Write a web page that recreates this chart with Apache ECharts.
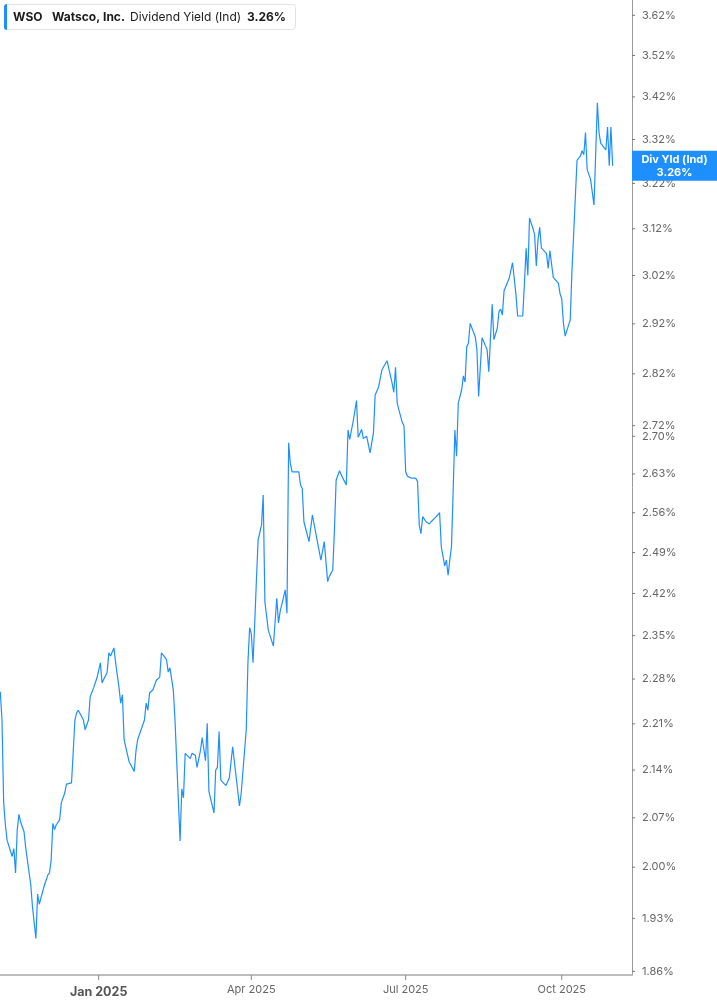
<!DOCTYPE html>
<html>
<head>
<meta charset="utf-8">
<script src="https://cdn.jsdelivr.net/npm/echarts@6/dist/echarts.min.js"></script>
<style>
html,body{margin:0;padding:0;background:#fff;}
#chart{width:717px;height:1005px;}
</style>
</head>
<body>
<div id="chart"></div>
<script>
const ticker = 'WSO';
const company = 'Watsco, Inc.';
const metricName = 'Dividend Yield (Ind)';
const boxName = 'Div Yld (Ind)';

const dates = [
'2024-11-04','2024-11-05','2024-11-06','2024-11-07','2024-11-08','2024-11-11','2024-11-12','2024-11-13','2024-11-14','2024-11-15',
'2024-11-16','2024-11-18','2024-11-19','2024-11-20','2024-11-22','2024-11-23','2024-11-25','2024-11-26','2024-11-27','2024-11-28',
'2024-11-30','2024-12-02','2024-12-03','2024-12-04','2024-12-05','2024-12-06','2024-12-07','2024-12-09','2024-12-10','2024-12-12',
'2024-12-13','2024-12-16','2024-12-17','2024-12-18','2024-12-19','2024-12-20','2024-12-23','2024-12-24','2024-12-26','2024-12-27',
'2024-12-29','2024-12-31','2025-01-02','2025-01-03','2025-01-06','2025-01-07','2025-01-08','2025-01-10','2025-01-11','2025-01-13',
'2025-01-14','2025-01-15','2025-01-16','2025-01-17','2025-01-19','2025-01-22','2025-01-23','2025-01-24','2025-01-26','2025-01-28',
'2025-01-29','2025-01-30','2025-01-31','2025-02-02','2025-02-03','2025-02-04','2025-02-06','2025-02-07','2025-02-09','2025-02-10',
'2025-02-11','2025-02-12','2025-02-14','2025-02-15','2025-02-16','2025-02-18','2025-02-19','2025-02-20','2025-02-21','2025-02-24',
'2025-02-25','2025-02-27','2025-02-28','2025-03-02','2025-03-03','2025-03-04','2025-03-05','2025-03-06','2025-03-07','2025-03-10',
'2025-03-11','2025-03-12','2025-03-13','2025-03-14','2025-03-17','2025-03-19','2025-03-21','2025-03-25','2025-03-26','2025-03-27',
'2025-03-29','2025-03-30','2025-03-31','2025-04-01','2025-04-02','2025-04-03','2025-04-04','2025-04-05','2025-04-07','2025-04-08',
'2025-04-09','2025-04-10','2025-04-11','2025-04-14','2025-04-16','2025-04-17','2025-04-18','2025-04-21','2025-04-22','2025-04-23',
'2025-04-24','2025-04-25','2025-04-29','2025-04-30','2025-05-01','2025-05-02','2025-05-05','2025-05-07','2025-05-08','2025-05-09',
'2025-05-12','2025-05-14','2025-05-15','2025-05-16','2025-05-17','2025-05-19','2025-05-20','2025-05-21','2025-05-23','2025-05-25',
'2025-05-27','2025-05-28','2025-05-29','2025-05-31','2025-06-02','2025-06-03','2025-06-04','2025-06-05','2025-06-06','2025-06-08',
'2025-06-10','2025-06-12','2025-06-13','2025-06-15','2025-06-17','2025-06-18','2025-06-20','2025-06-23','2025-06-24','2025-06-25',
'2025-06-26','2025-06-27','2025-06-29','2025-06-30','2025-07-01','2025-07-02','2025-07-04','2025-07-07','2025-07-08','2025-07-09',
'2025-07-10','2025-07-11','2025-07-13','2025-07-15','2025-07-16','2025-07-17','2025-07-19','2025-07-21','2025-07-22','2025-07-24',
'2025-07-25','2025-07-26','2025-07-27','2025-07-28','2025-07-29','2025-07-30','2025-07-31','2025-08-01','2025-08-03','2025-08-04',
'2025-08-05','2025-08-06','2025-08-07','2025-08-08','2025-08-11','2025-08-12','2025-08-13','2025-08-15','2025-08-18','2025-08-19',
'2025-08-21','2025-08-22','2025-08-24','2025-08-25','2025-08-26','2025-08-27','2025-08-28','2025-08-29','2025-08-31','2025-09-02',
'2025-09-03','2025-09-04','2025-09-05','2025-09-08','2025-09-09','2025-09-10','2025-09-11','2025-09-12','2025-09-14','2025-09-15',
'2025-09-16','2025-09-17','2025-09-18','2025-09-19','2025-09-22','2025-09-23','2025-09-24','2025-09-26','2025-09-29','2025-09-30',
'2025-10-01','2025-10-02','2025-10-03','2025-10-06','2025-10-07','2025-10-08','2025-10-10','2025-10-12','2025-10-13','2025-10-14',
'2025-10-15','2025-10-16','2025-10-18','2025-10-20','2025-10-21','2025-10-22','2025-10-23','2025-10-24','2025-10-27','2025-10-28',
'2025-10-29','2025-10-30','2025-10-31'
];

const values = [
2.260,2.216,2.092,2.060,2.038,2.015,2.026,1.992,2.053,2.075,
2.064,2.050,2.027,2.026,1.975,1.945,1.903,1.963,1.949,1.958,
1.975,1.989,1.992,2.010,2.062,2.053,2.060,2.067,2.092,2.106,
2.119,2.121,2.122,2.216,2.227,2.231,2.216,2.201,2.216,2.252,
2.266,2.282,2.306,2.274,2.291,2.322,2.317,2.330,2.306,2.266,
2.242,2.255,2.186,2.174,2.152,2.138,2.169,2.186,2.201,2.216,
2.242,2.231,2.258,2.263,2.266,2.278,2.283,2.322,2.315,2.311,
2.291,2.298,2.263,2.216,2.154,2.037,2.112,2.099,2.165,2.157,
2.165,2.162,2.144,2.169,2.189,2.186,2.154,2.211,2.108,2.077,
2.140,2.144,2.198,2.125,2.117,2.128,2.175,2.087,2.105,2.103,
2.201,2.306,2.363,2.353,2.306,2.371,2.443,2.512,2.538,2.592,
2.406,2.405,2.359,2.333,2.412,2.371,2.390,2.426,2.387,2.688,
2.650,2.634,2.634,2.610,2.604,2.544,2.509,2.556,2.557,2.524,
2.477,2.509,2.506,2.440,2.449,2.460,2.530,2.619,2.636,2.622,
2.610,2.712,2.694,2.728,2.768,2.698,2.696,2.713,2.696,2.700,
2.669,2.707,2.779,2.794,2.828,2.834,2.846,2.802,2.784,2.833,
2.763,2.750,2.726,2.720,2.634,2.626,2.623,2.622,2.616,2.538,
2.523,2.553,2.544,2.540,2.544,2.542,2.553,2.560,2.500,2.467,
2.477,2.451,2.477,2.500,2.601,2.712,2.663,2.763,2.789,2.816,
2.804,2.874,2.881,2.921,2.894,2.868,2.776,2.892,2.868,2.824,
2.960,2.888,2.911,2.945,2.950,2.938,2.988,2.986,3.014,3.047,
3.051,2.980,2.936,2.936,3.004,3.078,3.020,3.143,3.121,3.107,
3.040,3.096,3.123,3.078,3.067,3.035,3.073,3.016,3.004,2.982,
2.971,2.921,2.895,2.928,3.028,3.028,3.272,3.282,3.294,3.285,
3.336,3.251,3.229,3.172,3.168,3.406,3.335,3.311,3.296,3.349,
3.260,3.349,3.260
];

const yTickValues = [3.62,3.52,3.42,3.32,3.22,3.12,3.02,2.92,2.82,2.72,2.70,2.63,2.56,2.49,2.42,2.35,2.28,2.21,2.14,2.07,2.00,1.93,1.86];
const yTickLabels = ['3.62%','3.52%','3.42%','3.32%','3.22%','3.12%','3.02%','2.92%','2.82%','2.72%','2.70%','2.63%','2.56%','2.49%','2.42%','2.35%','2.28%','2.21%','2.14%','2.07%','2.00%','1.93%','1.86%'];

const xTickDates = ['2025-01-01','2025-04-01','2025-07-01','2025-10-01'];
const xTickLabels = ['Jan 2025','Apr 2025','Jul 2025','Oct 2025'];

const lastValue = values[values.length - 1];
const lastLabel = lastValue.toFixed(2) + '%';

const BLUE = '#1e8fff';
const FONT = 'Inter, "Noto Sans", sans-serif';
const HIDDEN_LINE = {color: 'rgba(0,0,0,0)', width: 0, opacity: 1};

const seriesData = dates.map((d, i) => [d, values[i]]);

const chart = echarts.init(document.getElementById('chart'), null, {renderer: 'canvas'});

const option = {
  animation: false,
  backgroundColor: '#ffffff',
  textStyle: {fontFamily: FONT},
  grid: {left: 0, right: 85, top: 0, bottom: 30, containLabel: false},
  xAxis: {
    type: 'time',
    min: new Date(2024, 10, 3, 20, 0, 0).getTime(),
    max: new Date(2025, 10, 11, 10, 0, 0).getTime(),
    axisLine: {show: true, lineStyle: {color: '#bdbdbd', width: 2}},
    axisTick: {show: false},
    axisLabel: {show: false},
    splitLine: {show: false}
  },
  yAxis: {
    type: 'log',
    logBase: 10,
    position: 'right',
    min: 1.8553,
    max: 3.6588,
    axisLine: {show: true, lineStyle: {color: '#999', width: 1}},
    axisTick: {show: false},
    axisLabel: {show: false},
    splitLine: {show: false},
    minorTick: {show: false},
    minorSplitLine: {show: false}
  },
  graphic: [
    {type: 'rect', shape: {x: 4.5, y: 4.5, width: 291, height: 25, r: 3}, style: {fill: '#fff', stroke: '#e2e2e2', lineWidth: 1}, z: 10},
    {type: 'rect', shape: {x: 4, y: 4, width: 3, height: 26, r: [3, 0, 0, 3]}, style: {fill: BLUE}, z: 11},
    {type: 'text', x: 13, y: 17, style: {text: ticker, fill: '#1a1a1a', font: 'bold 12px ' + FONT, textVerticalAlign: 'middle'}, z: 11},
    {type: 'text', x: 52, y: 17, style: {text: company, fill: '#1a1a1a', font: 'bold 12px ' + FONT, textVerticalAlign: 'middle'}, z: 11},
    {type: 'text', x: 130, y: 17, style: {text: metricName, fill: '#1a1a1a', font: '12px ' + FONT, textVerticalAlign: 'middle'}, z: 11},
    {type: 'text', x: 247, y: 17, style: {text: lastLabel, fill: '#1a1a1a', font: 'bold 12px ' + FONT, textVerticalAlign: 'middle'}, z: 11}
  ],
  series: [
    {
      type: 'line',
      data: seriesData,
      showSymbol: false,
      symbol: 'none',
      lineStyle: {color: BLUE, width: 1.2},
      z: 3,
      markLine: {
        silent: true,
        symbol: 'none',
        animation: false,
        lineStyle: HIDDEN_LINE,
        label: {
          show: true,
          position: 'end',
          distance: 0,
          formatter: function (p) { return '{t| }{v|' + yTickLabels[p.dataIndex] + '}'; },
          rich: {
            t: {width: 3, height: 1, backgroundColor: '#777'},
            v: {color: '#666', fontFamily: FONT, fontSize: 11, padding: [0, 0, 0, 7]}
          }
        },
        data: yTickValues.map(v => ({yAxis: v}))
      }
    },
    {
      type: 'line',
      data: [],
      z: 8,
      markLine: {
        silent: true,
        symbol: 'none',
        animation: false,
        lineStyle: HIDDEN_LINE,
        z: 8,
        label: {
          show: true,
          position: 'end',
          distance: 0,
          backgroundColor: BLUE,
          padding: [2, 0, 2, 0],
          formatter: '{a|' + boxName + '}\n{a|' + lastLabel + '}',
          rich: {
            a: {width: 85, align: 'center', color: '#fff', fontFamily: FONT, fontSize: 11, fontWeight: 'bold', lineHeight: 13}
          }
        },
        data: [{yAxis: lastValue}]
      }
    },
    {
      type: 'line',
      data: [],
      z: 4,
      markLine: {
        silent: true,
        symbol: 'none',
        animation: false,
        lineStyle: HIDDEN_LINE,
        label: {
          show: true,
          position: 'start',
          distance: 0,
          formatter: function (p) {
            const txt = xTickLabels[p.dataIndex];
            const style = txt.indexOf('Jan') === 0 ? 'yr' : 'v';
            return '{t| }\n{' + style + '|' + txt + '}';
          },
          rich: {
            t: {width: 1, height: 5, backgroundColor: '#888', lineHeight: 5},
            v: {color: '#666', fontFamily: FONT, fontSize: 11, lineHeight: 20},
            yr: {color: '#555', fontFamily: FONT, fontSize: 12.5, fontWeight: 'bold', lineHeight: 24}
          }
        },
        data: xTickDates.map(d => ({xAxis: d}))
      }
    }
  ]
};

chart.setOption(option);
</script>
</body>
</html>
